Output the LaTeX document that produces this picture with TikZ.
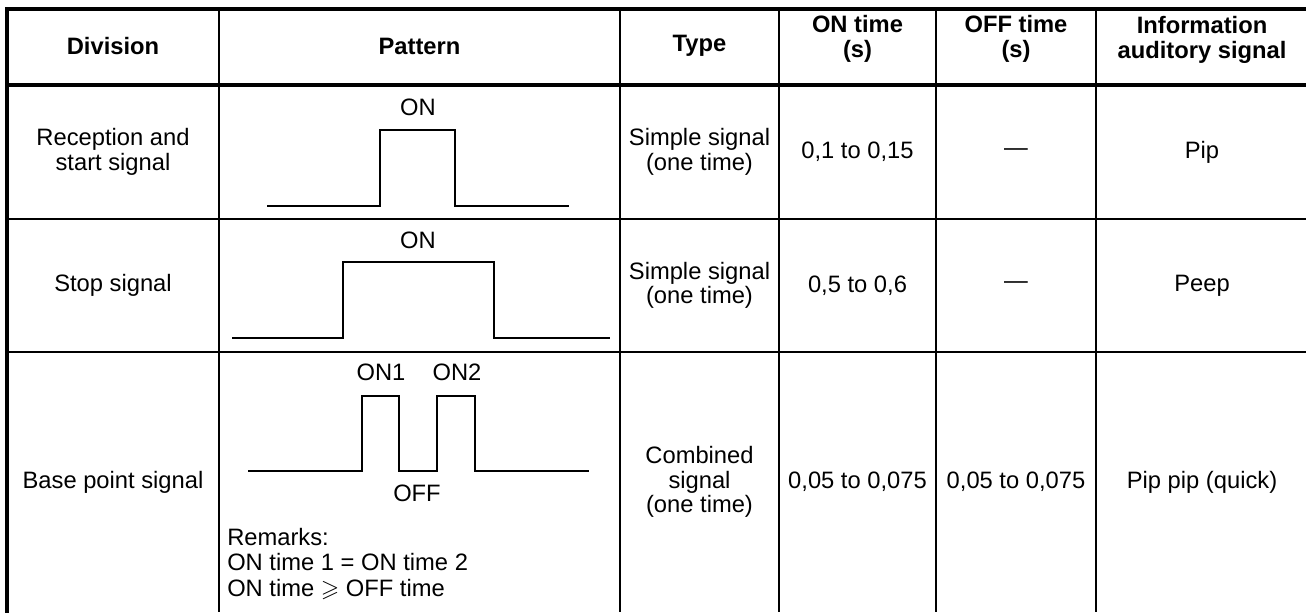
\documentclass[tikz,border=0pt]{standalone}
\usepackage{fontspec}
\setmainfont{Liberation Sans}
\usepackage{amssymb}
\begin{document}
\begin{tikzpicture}[x=0.75pt,y=-0.75pt,
  txt/.style={inner sep=0pt, align=center, font=\fontsize{17.8}{18.5}\selectfont},
  head/.style={txt, font=\fontsize{17.8}{18.5}\selectfont\bfseries},
  frame/.style={line width=3pt, line cap=rect},
  rule/.style={line width=1.6pt},
  wave/.style={line width=1.6pt, line join=miter}]
\useasboundingbox (0,0) rectangle (1306,612);

% outer frame (left and top) and the heavy rule under the header
\draw[frame] (7,612) -- (7,9) -- (1310,9);
\draw[frame] (7,84.5) -- (1310,84.5);
% row rules
\draw[rule] (7,219) -- (1310,219);
\draw[rule] (7,352) -- (1310,352);
% column rules
\foreach \cx in {219,620,779,936,1096}
  \draw[rule] (\cx,9) -- (\cx,612);

% header
\node[head] (hdiv)  at (113,46)    {Division};
\node[head] (hpat)  at (419.5,46)  {Pattern};
\node[head] (htype) at (699.5,46)  {Type};
\node[head] (hon)   at (857.5,39)  {ON time\\(s)};
\node[head] (hoff)  at (1016,39)   {OFF time\\(s)};
\node[head] (hinfo) at (1202,40)   {Information\\auditory signal};

% row 1
\node[txt] (d1) at (113,152)   {Reception and\\start signal};
\node[txt] (t1) at (699.5,152) {Simple signal\\(one time)};
\node[txt] (n1) at (857.5,152) {0,1 to 0,15};
\node[txt] (f1) at (1016,152)  {—};
\node[txt] (i1) at (1202,152)  {Pip};
\node[txt] (on1) at (418,107)  {ON};
\draw[wave] (267,206) -- (380,206) -- (380,130) -- (455,130) -- (455,206) -- (569,206);

% row 2
\node[txt] (d2) at (113,285.5)   {Stop signal};
\node[txt] (t2) at (699.5,285.5) {Simple signal\\(one time)};
\node[txt] (n2) at (857.5,285.5) {0,5 to 0,6};
\node[txt] (f2) at (1016,285.5)  {—};
\node[txt] (i2) at (1202,285.5)  {Peep};
\node[txt] (on2) at (418,240)    {ON};
\draw[wave] (232,338) -- (343,338) -- (343,262) -- (494,262) -- (494,338) -- (610,338);

% row 3
\node[txt] (d3) at (113,482)   {Base point signal};
\node[txt] (t3) at (699.5,482) {Combined\\signal\\(one time)};
\node[txt] (n3) at (857.5,482) {0,05 to 0,075};
\node[txt] (f3) at (1016,482)  {0,05 to 0,075};
\node[txt] (i3) at (1202,482)  {Pip pip (quick)};
\node[txt] (on31) at (381,372) {ON1};
\node[txt] (on32) at (457,372) {ON2};
\node[txt] (off3) at (417,493) {OFF};
\draw[wave] (248,471) -- (362,471) -- (362,396) -- (399,396) -- (399,471)
  -- (437,471) -- (437,396) -- (475,396) -- (475,471) -- (589,471);
\node[txt, align=left, anchor=west, font=\fontsize{17.8}{19}\selectfont] (rem) at (227,564)
  {Remarks:\\ON time 1 = ON time 2\\ON time $\geqslant$ OFF time};
\end{tikzpicture}
\end{document}
